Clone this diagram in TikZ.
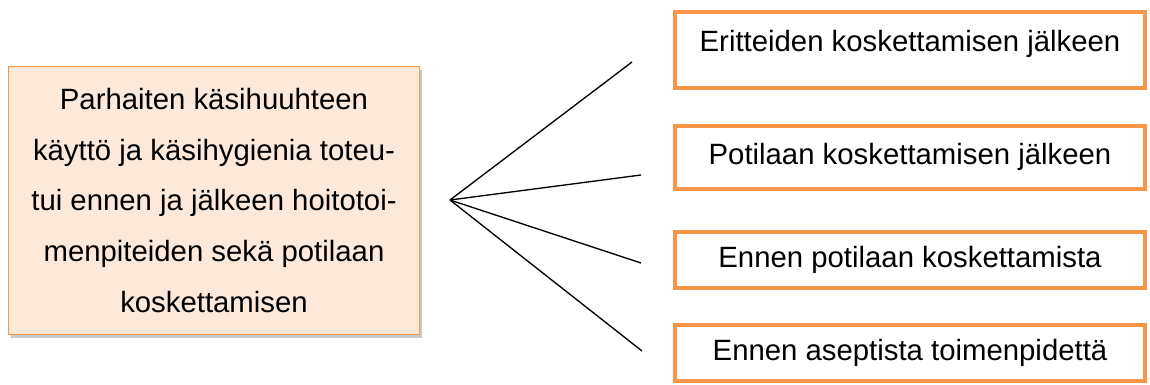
\documentclass[tikz,border=0pt]{standalone}
\usepackage{fontspec}
\setmainfont{Liberation Sans}
\usetikzlibrary{positioning}
\usetikzlibrary{shadows}
\definecolor{figOranssi}{RGB}{247,150,70}
\definecolor{figPersikka}{RGB}{253,233,217}
\tikzset{
  paalaatikko/.style={
    rectangle, draw=figOranssi, line width=1pt, fill=figPersikka,
    minimum width=308pt, minimum height=201pt,
    align=center, font=\fontsize{22}{38}\selectfont, inner sep=0pt,
    drop shadow={shadow xshift=2pt, shadow yshift=-2.5pt, opacity=0.35, fill=black!60}
  },
  kohta/.style={
    rectangle, draw=figOranssi, line width=3pt, fill=white,
    minimum width=352.5pt, align=center, font=\fontsize{22}{26}\selectfont,
    text height=15.8pt, text depth=4.8pt, inner sep=0pt
  },
  viiva/.style={line width=1pt, draw=black}
}

\begin{document}
\begin{tikzpicture}[x=0.75pt, y=-0.75pt]
  \useasboundingbox (0,0) rectangle (1150,385);
  \node[paalaatikko] (paa) at (214,200.5) {Parhaiten käsihuuhteen\\käyttö ja käsihygienia toteu-\\tui ennen ja jälkeen hoitotoi-\\menpiteiden sekä potilaan\\koskettamisen};
  \node[kohta, minimum height=57pt, text depth=13pt] (k1) at (910,50) {Eritteiden koskettamisen jälkeen};
  \node[kohta, minimum height=47.25pt, below=25.5pt of k1] (k2) {Potilaan koskettamisen jälkeen};
  \node[kohta, minimum height=42pt, below=29.25pt of k2] (k3) {Ennen potilaan koskettamista};
  \node[kohta, minimum height=42pt, below=24.75pt of k3] (k4) {Ennen aseptista toimenpidettä};
  % haarautuvat viivat
  \coordinate (haara) at (450,200);
  \coordinate (p1) at (632,62);
  \coordinate (p2) at (641,175);
  \coordinate (p3) at (641,263);
  \coordinate (p4) at (642,351);
  \foreach \p in {p1,p2,p3,p4}
    \draw[viiva] (haara) -- (\p);
\end{tikzpicture}
\end{document}
